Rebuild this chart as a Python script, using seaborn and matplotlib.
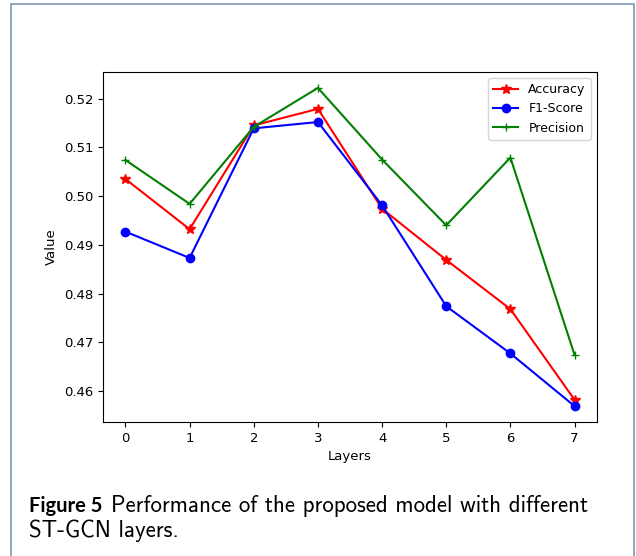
import matplotlib
matplotlib.use("Agg")
import matplotlib.pyplot as plt
import seaborn as sns
from matplotlib.patches import Rectangle

layers = [0, 1, 2, 3, 4, 5, 6, 7]
accuracy = [0.5035, 0.4932, 0.5145, 0.5179, 0.4974, 0.4869, 0.4768, 0.4582]
f1_score = [0.4927, 0.4873, 0.5139, 0.5152, 0.4981, 0.4774, 0.4677, 0.4569]
precision = [0.5074, 0.4984, 0.5142, 0.5222, 0.5075, 0.4940, 0.5079, 0.4674]

series_names = ["Accuracy", "F1-Score", "Precision"]
series_values = [accuracy, f1_score, precision]
series_colors = ["red", "blue", "green"]
series_markers = ["*", "o", "+"]

caption_bold = "Figure 5"
caption_line1 = "Performance of the proposed model with different"
caption_line2 = "ST-GCN layers."

W, H = 636, 556
fig = plt.figure(figsize=(W / 100, H / 100), dpi=100)
fig.patch.set_facecolor("white")

ax = fig.add_axes([103 / W, 1 - 422 / H, (597 - 103) / W, (422 - 72) / H])

for name, vals, col, mk in zip(series_names, series_values, series_colors, series_markers):
    sns.lineplot(x=layers, y=vals, ax=ax, color=col, marker=mk, label=name,
                 markersize=7 if mk == "*" else 6,
                 markeredgecolor=col, markeredgewidth=1.0, linewidth=1.5)

ax.set_xlabel("Layers", fontsize=9.5)
ax.set_ylabel("Value", fontsize=9.5)
ax.set_xticks(layers)
ax.tick_params(labelsize=9.5)
ax.margins(x=0.05, y=0.05)
ax.legend(loc="upper right", fontsize=9)

# outer frame
frame = Rectangle((11 / W, -0.01), (634 - 11) / W, 1 - 4 / H + 0.01,
                  transform=fig.transFigure, fill=False,
                  edgecolor="#7f97b2", linewidth=1.2)
fig.patches.append(frame)

# caption
renderer = fig.canvas.get_renderer()
x0 = 29 / W
y1 = 1 - 512 / H
y2 = 1 - 537 / H
tb = fig.text(x0, y1, caption_bold, fontsize=14.5, fontweight="bold",
              family=["Lato", "DejaVu Sans"], va="baseline", ha="left")
bb = tb.get_window_extent(renderer)
fig.text((bb.x1 + 9) / W, y1, caption_line1, fontsize=16.5,
         family=["cmss10", "DejaVu Sans"], va="baseline", ha="left")
fig.text(x0, y2, caption_line2, fontsize=16.5,
         family=["cmss10", "DejaVu Sans"], va="baseline", ha="left")

fig.savefig("out.png", dpi=100)
